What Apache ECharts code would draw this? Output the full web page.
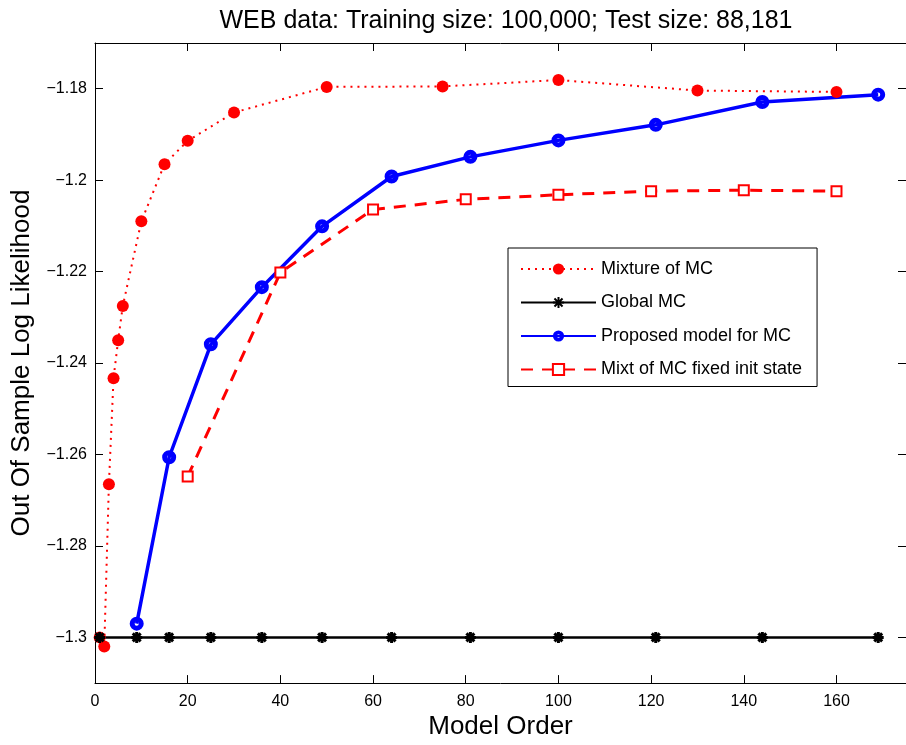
<!DOCTYPE html>
<html>
<head>
<meta charset="utf-8">
<script src="https://cdn.jsdelivr.net/npm/echarts@6/dist/echarts.min.js"></script>
<style>
html,body{margin:0;padding:0;background:#fff;}
#c{width:906px;height:745px;}
</style>
</head>
<body>
<div id="c"></div>
<script>
// ---- data ----
const titleText = 'WEB data: Training size: 100,000; Test size: 88,181';
const seriesNames = ['Mixture of MC', 'Global MC', 'Proposed model for MC', 'Mixt of MC fixed init state'];
const mixX = [1, 2, 3, 4, 5, 6, 10, 15, 20, 30, 50, 75, 100, 130, 160];
const mixY = [-1.300, -1.302, -1.2665, -1.2433, -1.2350, -1.2275, -1.2090, -1.1965, -1.1914, -1.1852, -1.1796, -1.1795, -1.1781, -1.1804, -1.1807];
const globalX = [1, 9, 16, 25, 36, 49, 64, 81, 100, 121, 144, 169];
const globalY = [-1.3, -1.3, -1.3, -1.3, -1.3, -1.3, -1.3, -1.3, -1.3, -1.3, -1.3, -1.3];
const propX = [9, 16, 25, 36, 49, 64, 81, 100, 121, 144, 169];
const propY = [-1.2970, -1.2606, -1.2359, -1.2234, -1.2101, -1.1992, -1.1949, -1.1913, -1.1879, -1.1829, -1.1813];
const fixX = [20, 40, 60, 80, 100, 120, 140, 160];
const fixY = [-1.2648, -1.2202, -1.2064, -1.2042, -1.2032, -1.2024, -1.2022, -1.2024];
const xTicks = [0, 20, 40, 60, 80, 100, 120, 140, 160];
const yTicks = [-1.3, -1.28, -1.26, -1.24, -1.22, -1.2, -1.18];

const pairs = (xs, ys) => xs.map((x, i) => [x, ys[i]]);
const FONT = 'Liberation Sans';
const starPath = 'path://M5,0 L5,10 M0,5 L10,5 M1.4,1.4 L8.6,8.6 M8.6,1.4 L1.4,8.6';
const ringPath = 'path://M6.5,0 A6.5,6.5 0 1,1 6.5,13 A6.5,6.5 0 1,1 6.5,0 Z M6.5,4.6 A1.9,1.9 0 1,0 6.5,8.4 A1.9,1.9 0 1,0 6.5,4.6 Z';

const chart = echarts.init(document.getElementById('c'), null, {renderer: 'canvas'});
const fmtY = v => String(parseFloat(v.toFixed(2))).replace('-', '\u2212');

const option = {
  backgroundColor: '#fff',
  animation: false,
  title: {
    text: titleText, left: 501, top: 4, textAlign: 'center',
    textStyle: {fontFamily: FONT, fontSize: 25, fontWeight: 'normal', color: '#000'}
  },
  grid: {left: 95, top: 43, width: 812, height: 650, containLabel: false},
  legend: {
    orient: 'vertical', left: 508, top: 248,
    padding: [12, 15, 8, 12],
    itemWidth: 75, itemHeight: 14, itemGap: 15.5,
    borderColor: '#000', borderWidth: 1, backgroundColor: '#fff',
    textStyle: {fontFamily: FONT, fontSize: 18, color: '#000'},
    data: seriesNames
  },
  xAxis: [{
    type: 'value', min: 0, max: 175, position: 'bottom',
    name: 'Model Order', nameLocation: 'middle', nameGap: 27,
    nameTextStyle: {fontFamily: FONT, fontSize: 26, color: '#000'},
    axisLine: {show: true, onZero: false, lineStyle: {color: '#000', width: 1}},
    axisTick: {show: true, inside: true, length: 8, customValues: xTicks, lineStyle: {color: '#000'}},
    axisLabel: {show: true, customValues: xTicks, margin: 10, fontFamily: FONT, fontSize: 16, color: '#000'},
    splitLine: {show: false}
  }, {
    type: 'value', min: 0, max: 175, position: 'top',
    axisLine: {show: true, onZero: false, lineStyle: {color: '#000', width: 1}},
    axisTick: {show: true, inside: true, length: 8, customValues: xTicks, lineStyle: {color: '#000'}},
    axisLabel: {show: false},
    splitLine: {show: false}
  }],
  yAxis: [{
    type: 'value', min: -1.31, max: -1.17, position: 'left',
    name: 'Out Of Sample Log Likelihood', nameLocation: 'middle', nameGap: 60,
    nameTextStyle: {fontFamily: FONT, fontSize: 26, color: '#000'},
    axisLine: {show: true, onZero: false, lineStyle: {color: '#000', width: 1}},
    axisTick: {show: true, inside: true, length: 8, customValues: yTicks, lineStyle: {color: '#000'}},
    axisLabel: {show: true, customValues: yTicks, formatter: fmtY, margin: 8, fontFamily: FONT, fontSize: 16, color: '#000'},
    splitLine: {show: false}
  }, {
    type: 'value', min: -1.31, max: -1.17, position: 'right',
    axisLine: {show: true, onZero: false, lineStyle: {color: '#000', width: 1}},
    axisTick: {show: true, inside: true, length: 8, customValues: yTicks, lineStyle: {color: '#000'}},
    axisLabel: {show: false},
    splitLine: {show: false}
  }],
  series: [{
    name: seriesNames[0], type: 'line', data: pairs(mixX, mixY),
    symbol: 'circle', symbolSize: 12,
    lineStyle: {color: '#ff0000', width: 2, type: [2, 5]},
    itemStyle: {color: '#ff0000'}
  }, {
    name: seriesNames[1], type: 'line', data: pairs(globalX, globalY),
    symbol: starPath, symbolSize: 11,
    lineStyle: {color: '#000', width: 2.5},
    itemStyle: {color: '#000', borderColor: '#000', borderWidth: 3}
  }, {
    name: seriesNames[2], type: 'line', data: pairs(propX, propY),
    symbol: ringPath, symbolSize: 14,
    lineStyle: {color: '#0000ff', width: 3.5},
    itemStyle: {color: '#0000ff', borderWidth: 0}
  }, {
    name: seriesNames[3], type: 'line', data: pairs(fixX, fixY),
    symbol: 'emptyRect', symbolSize: 10,
    lineStyle: {color: '#ff0000', width: 3, type: [12, 9]},
    itemStyle: {color: '#ff0000', borderColor: '#ff0000', borderWidth: 2.5}
  }]
};
chart.setOption(option);
</script>
</body>
</html>
